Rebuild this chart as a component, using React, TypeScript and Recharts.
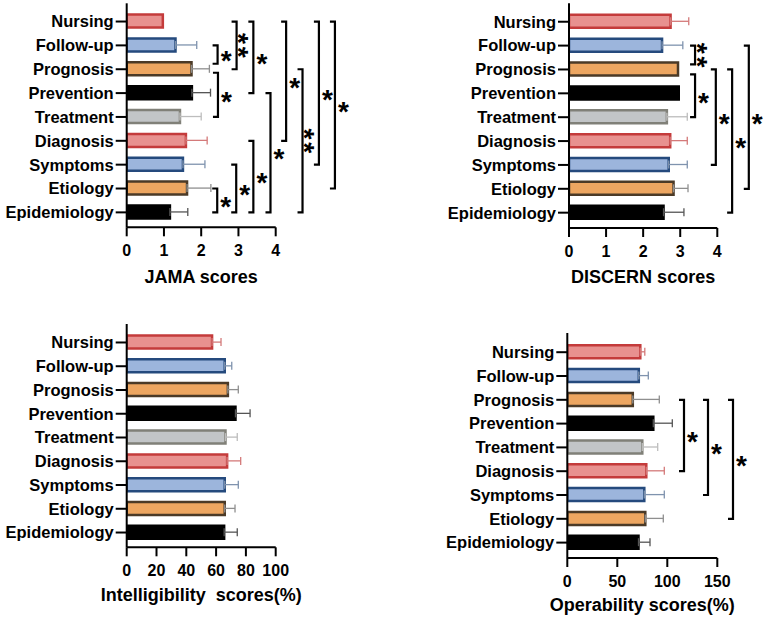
import React from 'react';
import { BarChart, Bar, XAxis, YAxis, ErrorBar, Cell, ReferenceLine, Label } from 'recharts';

const FONT = '"Liberation Sans", Arial, Helvetica, sans-serif';

const categories = ['Nursing', 'Follow-up', 'Prognosis', 'Prevention', 'Treatment', 'Diagnosis', 'Symptoms', 'Etiology', 'Epidemiology'];
const colorGroup = ['red', 'blue', 'orange', 'black', 'gray', 'red', 'blue', 'orange', 'black'];
const groupKeys = ['red', 'blue', 'orange', 'black', 'gray'];

const jamaMeans = [0.97, 1.31, 1.74, 1.75, 1.43, 1.59, 1.51, 1.62, 1.16];
const jamaErrors = [0, 0.57, 0.48, 0.5, 0.57, 0.57, 0.59, 0.64, 0.48];
const discernMeans = [2.74, 2.51, 2.94, 2.96, 2.64, 2.73, 2.69, 2.82, 2.55];
const discernErrors = [0.49, 0.56, 0, 0, 0.55, 0.46, 0.5, 0.39, 0.55];
const intelMeans = [57.3, 65.8, 67.9, 73, 66.3, 67.4, 65.8, 65.8, 65.4];
const intelErrors = [6, 4.7, 7, 9.8, 7.9, 9.1, 9.1, 6.9, 8.8];
const operMeans = [73, 71.5, 65.5, 86, 75, 79, 77, 78, 71.2];
const operErrors = [4.5, 9.5, 26.5, 19, 15.4, 18, 20, 18, 11.5];

const jamaTicks = [0, 1, 2, 3, 4];
const discernTicks = [0, 1, 2, 3, 4];
const intelTicks = [0, 20, 40, 60, 80, 100];
const operTicks = [0, 50, 100, 150];

// [from, to, x position (axis units), stars, insetTop, insetBottom]
type Bracket = [string, string, number, string, number, number];
const jamaBrackets: Bracket[] = [
  ['Follow-up', 'Prognosis', 2.44, '*', 0, 5.5],
  ['Prognosis', 'Treatment', 2.45, '*', 3.5, 0],
  ['Etiology', 'Epidemiology', 2.43, '*', 0, 0],
  ['Nursing', 'Prognosis', 2.95, '**', 0, 0],
  ['Symptoms', 'Epidemiology', 2.94, '*', 0, 0],
  ['Nursing', 'Prevention', 3.4, '*', 0, 0],
  ['Diagnosis', 'Epidemiology', 3.4, '*', 0, 0],
  ['Prevention', 'Epidemiology', 3.86, '*', 0, 0],
  ['Nursing', 'Diagnosis', 4.28, '*', 0, 0],
  ['Prognosis', 'Epidemiology', 4.72, '**', 0, 0],
  ['Nursing', 'Symptoms', 5.16, '*', 0, 0],
  ['Nursing', 'Etiology', 5.59, '*', 0, 0],
];
const discernBrackets: Bracket[] = [
  ['Follow-up', 'Prognosis', 3.4, '**', 0, 5],
  ['Prognosis', 'Treatment', 3.4, '*', 5, 0],
  ['Prognosis', 'Symptoms', 3.96, '*', 0, 0],
  ['Prognosis', 'Epidemiology', 4.4, '*', 0, 0],
  ['Follow-up', 'Etiology', 4.85, '*', 0, 0],
];
const intelBrackets: Bracket[] = [];
const operBrackets: Bracket[] = [
  ['Prognosis', 'Diagnosis', 116.7, '*', 0, 0],
  ['Prognosis', 'Symptoms', 140.7, '*', 0, 0],
  ['Prognosis', 'Etiology', 165.7, '*', 0, 0],
];

const palette: Record<string, { fill: string; stroke: string; err: string }> = {
  red: { fill: '#E8918F', stroke: '#C43B3B', err: '#D47A7A' },
  blue: { fill: '#9CB5DC', stroke: '#254A7D', err: '#7F93AE' },
  orange: { fill: '#EDA661', stroke: '#4B3A27', err: '#8F8F8F' },
  black: { fill: '#000000', stroke: '#000000', err: '#555555' },
  gray: { fill: '#C2C5C7', stroke: '#808078', err: '#BDBDBD' },
};

function buildRows(means: number[], errors: number[]) {
  return categories.map((name, i) => {
    const row: any = { name, value: means[i] };
    groupKeys.forEach((g) => {
      row['err_' + g] = colorGroup[i] === g && errors[i] > 0 ? [0, errors[i]] : null;
    });
    return row;
  });
}

const STAR_SIZE = 28;
const STAR_SPACING = 2.9;

const bracketShape = (stars: string, insetTop: number, insetBottom: number) => (p: any) => {
  const x = p.x1;
  const yTop = Math.min(p.y1, p.y2) + insetTop;
  const yBot = Math.max(p.y1, p.y2) - insetBottom;
  const mid = (yTop + yBot) / 2;
  const tx = x + 8.5;
  const single = stars.length === 1;
  return (
    <g>
      <path d={`M${x - 5},${yTop}H${x}V${yBot}H${x - 5}`} fill="none" stroke="#000" strokeWidth={2.2} />
      {single ? (
        <text x={tx} y={mid + STAR_SIZE * 0.56} textAnchor="middle" fontSize={STAR_SIZE} fontWeight={700} fontFamily={FONT} fill="#000">
          {stars}
        </text>
      ) : (
        <text
          x={tx + STAR_SPACING / 2}
          y={mid + STAR_SIZE * 0.57}
          transform={`rotate(90, ${tx}, ${mid})`}
          textAnchor="middle"
          fontSize={STAR_SIZE}
          fontWeight={700}
          fontFamily={FONT}
          letterSpacing={STAR_SPACING}
          fill="#000"
        >
          {stars}
        </text>
      )}
    </g>
  );
};

type PanelProps = {
  left: number;
  top: number;
  width: number;
  height: number;
  margin: { top: number; right: number; bottom: number; left: number };
  yAxisWidth: number;
  xTicks: number[];
  rows: any[];
  brackets: Bracket[];
  title: string;
  titleDy: number;
  padTop: number;
  padBottom: number;
};

function Panel(props: PanelProps) {
  const { left, top, width, height, margin, yAxisWidth, xTicks, rows, brackets, title, titleDy, padTop, padBottom } = props;
  const plotLeft = margin.left + yAxisWidth;
  const plotRight = width - margin.right;
  const plotBottom = height - margin.bottom - 60;
  const titleContent = (lp: any) => {
    const vb = lp && lp.viewBox;
    const cx = vb && typeof vb.x === 'number' ? vb.x + vb.width / 2 : (plotLeft + plotRight) / 2;
    const y0 = vb && typeof vb.y === 'number' ? vb.y : plotBottom;
    return (
      <text x={cx} y={y0 + titleDy} textAnchor="middle" fontSize={18} fontWeight={700} fontFamily={FONT} fill="#000" style={{ whiteSpace: 'pre' }}>
        {title}
      </text>
    );
  };
  return (
    <div style={{ position: 'absolute', left, top, width, height }}>
      <BarChart width={width} height={height} data={rows} layout="vertical" margin={margin} barSize={13}>
        <XAxis
          type="number"
          domain={[xTicks[0], xTicks[xTicks.length - 1]]}
          ticks={xTicks}
          interval={0}
          allowDataOverflow
          height={60}
          tick={{ fill: '#000', fontSize: 16, fontWeight: 700, fontFamily: FONT }}
          tickSize={9}
          tickMargin={8.5}
          axisLine={{ stroke: '#000', strokeWidth: 2 }}
          tickLine={{ stroke: '#000', strokeWidth: 2 }}
        >
          <Label content={titleContent} />
        </XAxis>
        <YAxis
          type="category"
          dataKey="name"
          width={yAxisWidth}
          interval={0}
          padding={{ top: padTop, bottom: padBottom }}
          tick={{ fill: '#000', fontSize: 16.5, fontWeight: 700, fontFamily: FONT }}
          tickSize={11}
          tickMargin={2}
          axisLine={{ stroke: '#000', strokeWidth: 2 }}
          tickLine={{ stroke: '#000', strokeWidth: 2 }}
        />
        <Bar dataKey="value" isAnimationActive={false} strokeWidth={2.5}>
          {rows.map((r, i) => (
            <Cell key={r.name} fill={palette[colorGroup[i]].fill} stroke={palette[colorGroup[i]].stroke} />
          ))}
          {groupKeys.map((g) => (
            <ErrorBar key={g} dataKey={'err_' + g} direction="x" width={4} stroke={palette[g].err} strokeWidth={1.3} isAnimationActive={false} />
          ))}
        </Bar>
        {brackets.map((b, i) => (
          <ReferenceLine
            key={i}
            segment={[
              { x: b[2], y: b[0] },
              { x: b[2], y: b[1] },
            ]}
            ifOverflow="visible"
            stroke="#000"
            shape={bracketShape(b[3], b[4], b[5])}
          />
        ))}
      </BarChart>
    </div>
  );
}

export default function App() {
  return (
    <div style={{ position: 'absolute', left: 0, top: 0, width: 767, height: 623, background: '#fff', fontFamily: FONT }}>
      <Panel
        left={0}
        top={0}
        width={383}
        height={300}
        margin={{ top: 3.3, right: 107.3, bottom: 12.7, left: 0 }}
        yAxisWidth={126.7}
        xTicks={jamaTicks}
        rows={buildRows(jamaMeans, jamaErrors)}
        brackets={jamaBrackets}
        title="JAMA scores"
        titleDy={55.8}
        padTop={6.3}
        padBottom={3}
      />
      <Panel
        left={383}
        top={0}
        width={384}
        height={300}
        margin={{ top: 3.3, right: 49.7, bottom: 12, left: 0 }}
        yAxisWidth={186}
        xTicks={discernTicks}
        rows={buildRows(discernMeans, discernErrors)}
        brackets={discernBrackets}
        title="DISCERN scores"
        titleDy={55.1}
        padTop={6.5}
        padBottom={3.4}
      />
      <Panel
        left={0}
        top={300}
        width={383}
        height={323}
        margin={{ top: 24, right: 107.3, bottom: 15.7, left: 0 }}
        yAxisWidth={126.7}
        xTicks={intelTicks}
        rows={buildRows(intelMeans, intelErrors)}
        brackets={intelBrackets}
        title={'Intelligibility\u00A0\u00A0scores(%)'}
        titleDy={54.1}
        padTop={6.6}
        padBottom={2.9}
      />
      <Panel
        left={383}
        top={300}
        width={384}
        height={323}
        margin={{ top: 33, right: 49.7, bottom: 5, left: 0 }}
        yAxisWidth={184.3}
        xTicks={operTicks}
        rows={buildRows(operMeans, operErrors)}
        brackets={operBrackets}
        title="Operability scores(%)"
        titleDy={53.4}
        padTop={7.3}
        padBottom={3.5}
      />
    </div>
  );
}
